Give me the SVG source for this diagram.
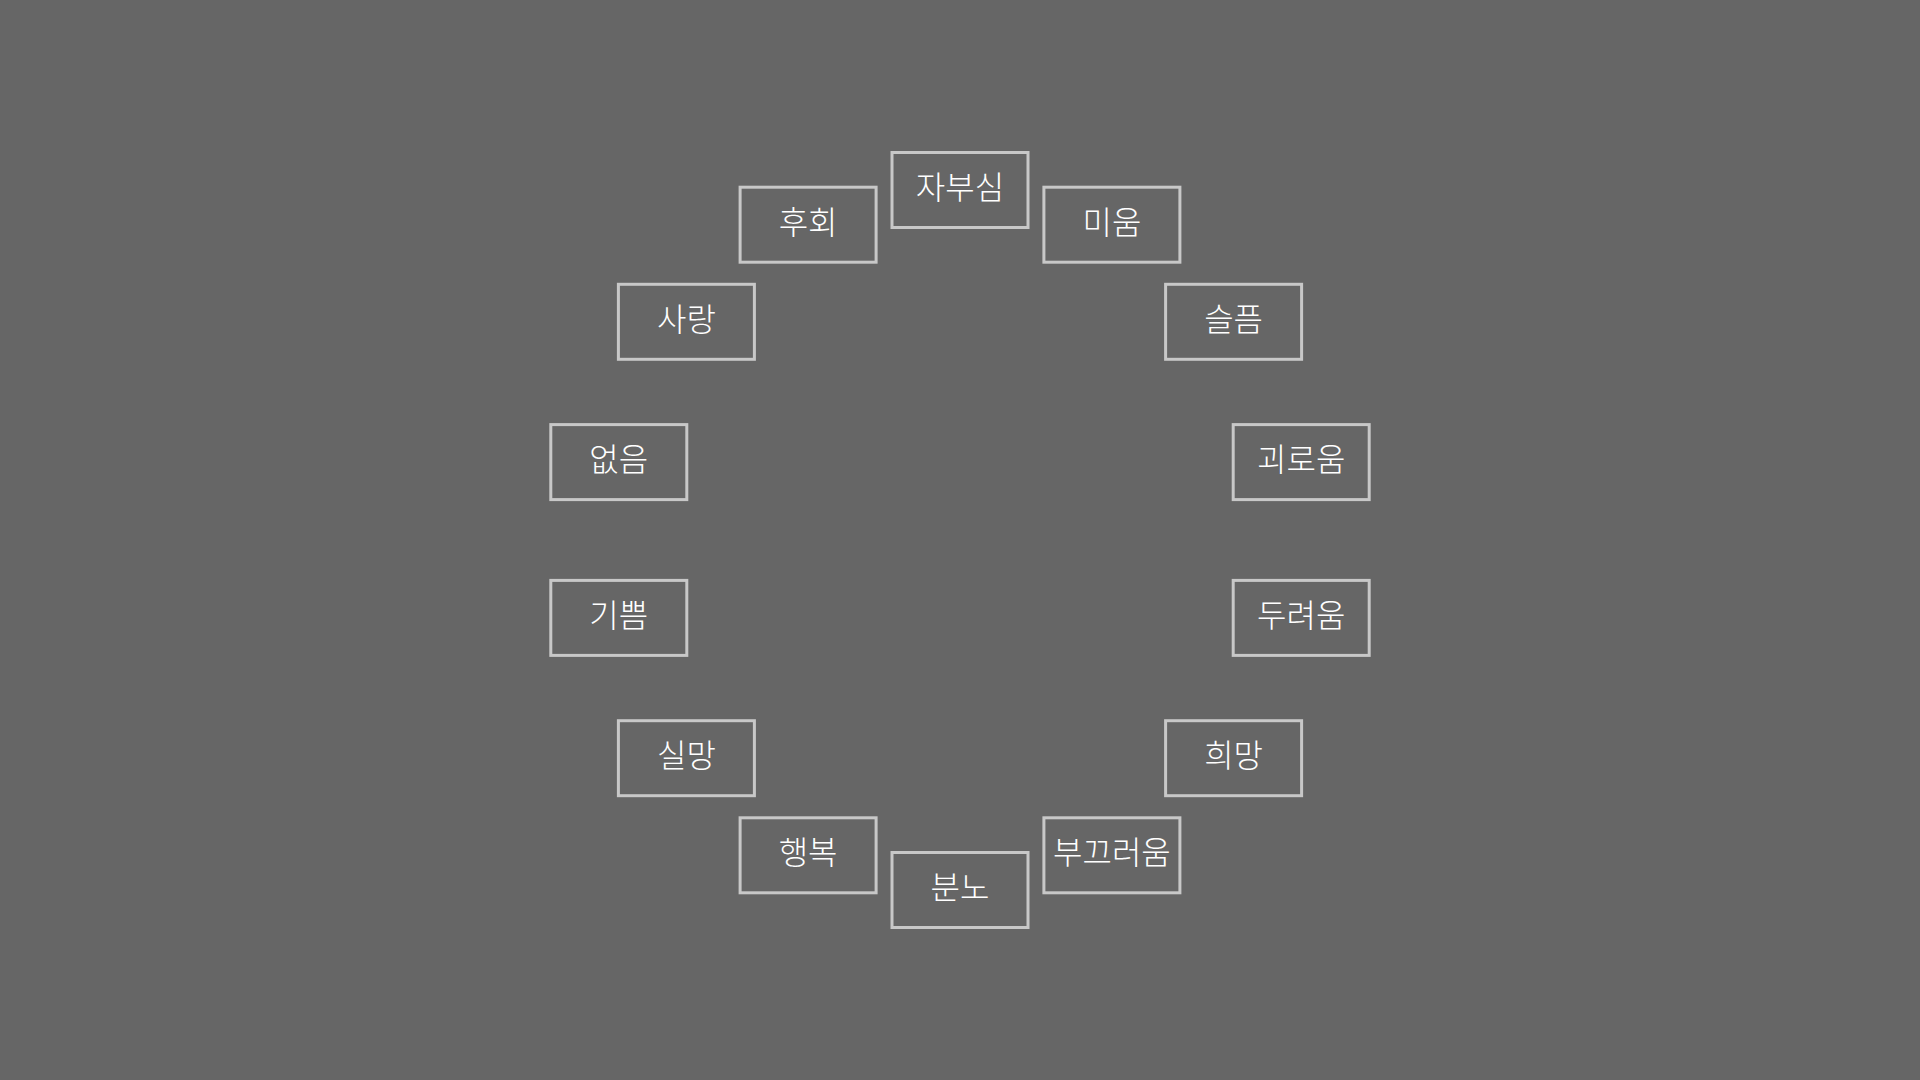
<svg xmlns="http://www.w3.org/2000/svg" width="1920" height="1080" viewBox="0 0 1920 1080">
<style>
.box{fill:none;stroke:#c8c8c8;stroke-width:3}
.lbl{fill:#ffffff;font-family:"Noto Sans CJK KR","Noto Sans",sans-serif;font-size:32px;font-weight:300;text-anchor:middle}
</style>
<rect x="0" y="0" width="1920" height="1080" fill="#666666"/>
<g id="connectors"></g>
<g id="n0"><rect class="box" x="892" y="152.5" width="136" height="75"/><text class="lbl" x="960" y="199">자부심</text></g>
<g id="n1"><rect class="box" x="1043.9" y="187.2" width="136" height="75"/><text class="lbl" x="1111.9" y="233.7">미움</text></g>
<g id="n2"><rect class="box" x="1165.6" y="284.3" width="136" height="75"/><text class="lbl" x="1233.6" y="330.8">슬픔</text></g>
<g id="n3"><rect class="box" x="1233.2" y="424.6" width="136" height="75"/><text class="lbl" x="1301.2" y="471.1">괴로움</text></g>
<g id="n4"><rect class="box" x="1233.2" y="580.4" width="136" height="75"/><text class="lbl" x="1301.2" y="626.9">두려움</text></g>
<g id="n5"><rect class="box" x="1165.6" y="720.7" width="136" height="75"/><text class="lbl" x="1233.6" y="767.2">희망</text></g>
<g id="n6"><rect class="box" x="1043.9" y="817.8" width="136" height="75"/><text class="lbl" x="1111.9" y="864.3">부끄러움</text></g>
<g id="n7"><rect class="box" x="892" y="852.5" width="136" height="75"/><text class="lbl" x="960" y="899">분노</text></g>
<g id="n8"><rect class="box" x="740.1" y="817.8" width="136" height="75"/><text class="lbl" x="808.1" y="864.3">행복</text></g>
<g id="n9"><rect class="box" x="618.4" y="720.7" width="136" height="75"/><text class="lbl" x="686.4" y="767.2">실망</text></g>
<g id="n10"><rect class="box" x="550.8" y="580.4" width="136" height="75"/><text class="lbl" x="618.8" y="626.9">기쁨</text></g>
<g id="n11"><rect class="box" x="550.8" y="424.6" width="136" height="75"/><text class="lbl" x="618.8" y="471.1">없음</text></g>
<g id="n12"><rect class="box" x="618.4" y="284.3" width="136" height="75"/><text class="lbl" x="686.4" y="330.8">사랑</text></g>
<g id="n13"><rect class="box" x="740.1" y="187.2" width="136" height="75"/><text class="lbl" x="808.1" y="233.7">후회</text></g>
</svg>
